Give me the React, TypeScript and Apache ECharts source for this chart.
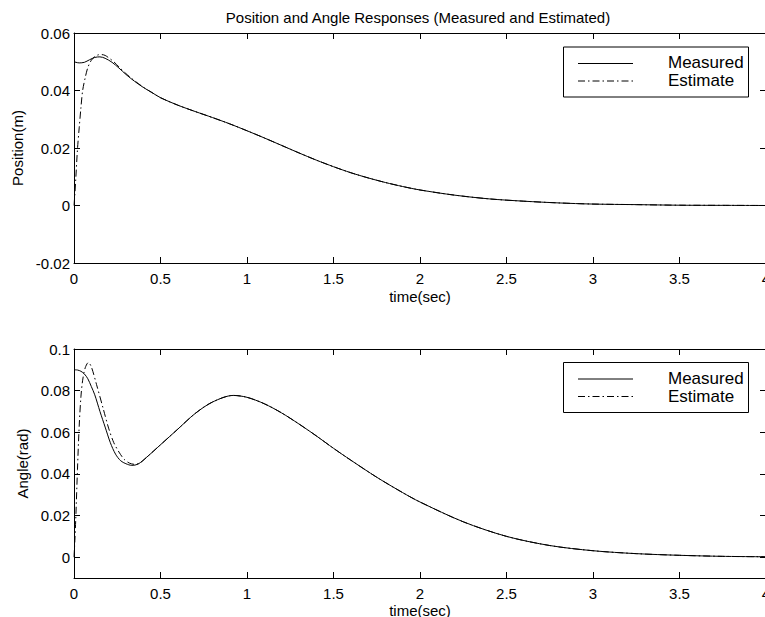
import React, { useEffect, useRef } from "react";
import * as echarts from "echarts";

const FONT = "'Liberation Sans', Arial, Helvetica, sans-serif";

const titleText = "Position and Angle Responses (Measured and Estimated)";
const xLabel = "time(sec)";
const posLabel = "Position(m)";
const angLabel = "Angle(rad)";
const legendNames = ["Measured", "Estimate"];

// Position subplot
const posTime = [0, 0.03, 0.06, 0.09, 0.12, 0.15, 0.18, 0.22, 0.26, 0.3, 0.35, 0.4, 0.45, 0.5, 0.6, 0.7, 0.8, 0.9, 1.0, 1.1, 1.2, 1.3, 1.4, 1.5, 1.6, 1.7, 1.8, 1.9, 2.0, 2.2, 2.4, 2.6, 2.8, 3.0, 3.25, 3.5, 3.75, 4.0];
const posMeasured = [0.05, 0.0496, 0.0498, 0.0507, 0.0515, 0.0517, 0.0512, 0.0498, 0.0478, 0.0456, 0.0432, 0.0411, 0.0393, 0.0375, 0.0349, 0.0327, 0.0306, 0.0284, 0.026, 0.0235, 0.0209, 0.0183, 0.0158, 0.0135, 0.0114, 0.0096, 0.008, 0.0066, 0.0054, 0.0036, 0.0023, 0.0015, 0.0009, 0.0005, 0.0003, 0.0001, 0.00005, 0];
const posEstTimeHead = [0, 0.005, 0.01, 0.02, 0.03, 0.04, 0.05, 0.065, 0.08, 0.1, 0.12, 0.14, 0.16, 0.18, 0.2, 0.23, 0.26, 0.3, 0.35, 0.4];
const posEstimateHead = [0, 0.004, 0.009, 0.0195, 0.027, 0.034, 0.04, 0.0445, 0.048, 0.0505, 0.0518, 0.0524, 0.0525, 0.0522, 0.0514, 0.05, 0.0482, 0.0459, 0.0434, 0.0412];

// Angle subplot
const angTime = [0, 0.02, 0.04, 0.06, 0.08, 0.1, 0.12, 0.15, 0.18, 0.21, 0.24, 0.27, 0.3, 0.334, 0.37, 0.42, 0.5, 0.6, 0.7, 0.8, 0.92, 1.0, 1.1, 1.2, 1.3, 1.4, 1.5, 1.6, 1.75, 1.9, 2.0, 2.25, 2.5, 2.75, 3.0, 3.25, 3.5, 3.75, 4.0];
const angMeasured = [0.09, 0.0899, 0.0893, 0.088, 0.0857, 0.082, 0.078, 0.07, 0.0625, 0.055, 0.0495, 0.0463, 0.0449, 0.0441, 0.0447, 0.048, 0.054, 0.0615, 0.069, 0.0745, 0.0777, 0.0768, 0.0737, 0.0693, 0.064, 0.0583, 0.0523, 0.0466, 0.0384, 0.031, 0.0265, 0.017, 0.01, 0.0056, 0.0031, 0.0017, 0.0009, 0.0004, 0.0002];
const angEstTimeHead = [0, 0.005, 0.01, 0.02, 0.03, 0.04, 0.05, 0.065, 0.083, 0.1, 0.13, 0.17, 0.2, 0.23, 0.26, 0.29, 0.32, 0.35, 0.38];
const angEstimateHead = [0, 0.008, 0.018, 0.042, 0.063, 0.077, 0.085, 0.091, 0.0935, 0.0915, 0.083, 0.071, 0.062, 0.055, 0.0505, 0.047, 0.0452, 0.0446, 0.0452];

const xTicksInterval = 0.5;
const posTicksInterval = 0.02;
const angTickValues = [0, 0.02, 0.04, 0.06, 0.08, 0.1];

function zip(t: number[], v: number[]) {
  return t.map((x, i) => [x, v[i]]);
}

function withTail(headT: number[], headV: number[], t: number[], v: number[]) {
  const last = headT[headT.length - 1];
  const pts = zip(headT, headV);
  t.forEach((x, i) => {
    if (x > last + 0.02) pts.push([x, v[i]]);
  });
  return pts;
}

const GL = 74;
const GW = 692;

export default function App() {
  const ref = useRef<HTMLDivElement>(null);
  useEffect(() => {
    if (!ref.current) return;
    const chart = echarts.init(ref.current, undefined, { renderer: "svg" });
    const black = "#000";
    const lbl = { color: black, fontSize: 15, fontFamily: FONT };
    const axisLine = { show: true, onZero: false, lineStyle: { color: black, width: 1 } };
    const tick = { show: true, inside: true, length: 6, lineStyle: { color: black, width: 1 } };

    const xBottom = (gi: number, gap: number) => ({
      type: "value", gridIndex: gi, position: "bottom", min: 0, max: 4, interval: xTicksInterval,
      axisLine, axisTick: tick, splitLine: { show: false },
      axisLabel: { ...lbl, margin: 8 },
      name: xLabel, nameLocation: "middle", nameGap: gap, nameTextStyle: { ...lbl },
    });
    const xTop = (gi: number) => ({
      type: "value", gridIndex: gi, position: "top", min: 0, max: 4, interval: xTicksInterval,
      axisLine, axisTick: tick, splitLine: { show: false }, axisLabel: { show: false },
    });

    const dashDot = [7, 3, 1.5, 3];

    const legendGroup = (top: number) => ({
      type: "group",
      children: [
        { type: "rect", shape: { x: 563.5, y: top, width: 185, height: 50 }, style: { fill: "#fff", stroke: black, lineWidth: 1 }, z: 100 },
        { type: "line", shape: { x1: 578, y1: top + 16.5, x2: 633, y2: top + 16.5 }, style: { stroke: black, lineWidth: 1 }, z: 101 },
        { type: "line", shape: { x1: 578, y1: top + 34, x2: 633, y2: top + 34 }, style: { stroke: black, lineWidth: 1, lineDash: dashDot }, z: 101 },
        { type: "text", x: 668, y: top + 15.5, style: { text: legendNames[0], fill: black, font: `17px ${FONT}`, textVerticalAlign: "middle", verticalAlign: "middle" }, z: 101 },
        { type: "text", x: 668, y: top + 33.5, style: { text: legendNames[1], fill: black, font: `17px ${FONT}`, textVerticalAlign: "middle", verticalAlign: "middle" }, z: 101 },
      ],
    });

    chart.setOption({
      animation: false,
      backgroundColor: "#fff",
      title: {
        text: titleText, left: 418, top: 10, textAlign: "center", padding: 0,
        textStyle: { color: black, fontSize: 15, fontWeight: "normal", fontFamily: FONT },
      },
      grid: [
        { left: GL, top: 33, width: GW, height: 230, containLabel: false, outerBoundsMode: "none" },
        { left: GL, top: 349, width: GW, height: 229, containLabel: false, outerBoundsMode: "none" },
      ],
      xAxis: [xBottom(0, 26), xTop(0), xBottom(1, 25), xTop(1)],
      yAxis: [
        {
          type: "value", gridIndex: 0, position: "left", min: -0.02, max: 0.06, interval: posTicksInterval,
          axisLine, axisTick: tick, splitLine: { show: false }, axisLabel: { ...lbl, margin: 4 },
          name: posLabel, nameLocation: "middle", nameRotate: 90, nameGap: 47, nameTextStyle: { ...lbl },
        },
        {
          type: "value", gridIndex: 0, position: "right", min: -0.02, max: 0.06, interval: posTicksInterval,
          axisLine, axisTick: tick, splitLine: { show: false }, axisLabel: { show: false },
        },
        {
          type: "value", gridIndex: 1, position: "left", min: -0.01, max: 0.1,
          axisLine, axisTick: { ...tick, customValues: angTickValues }, splitLine: { show: false },
          axisLabel: { ...lbl, margin: 4, customValues: angTickValues },
          name: angLabel, nameLocation: "middle", nameRotate: 90, nameGap: 39, nameTextStyle: { ...lbl },
        },
        {
          type: "value", gridIndex: 1, position: "right", min: -0.01, max: 0.1,
          axisLine, axisTick: { ...tick, customValues: angTickValues }, splitLine: { show: false },
          axisLabel: { show: false, customValues: angTickValues },
        },
      ],
      series: [
        {
          name: legendNames[0], type: "line", xAxisIndex: 0, yAxisIndex: 0, data: zip(posTime, posMeasured),
          showSymbol: false, symbol: "none", smooth: 0.3, lineStyle: { color: black, width: 1 },
        },
        {
          name: legendNames[1], type: "line", xAxisIndex: 0, yAxisIndex: 0,
          data: withTail(posEstTimeHead, posEstimateHead, posTime, posMeasured),
          showSymbol: false, symbol: "none", smooth: 0.3, lineStyle: { color: black, width: 1, type: dashDot },
        },
        {
          name: legendNames[0], type: "line", xAxisIndex: 2, yAxisIndex: 2, data: zip(angTime, angMeasured),
          showSymbol: false, symbol: "none", smooth: 0.3, lineStyle: { color: black, width: 1 },
        },
        {
          name: legendNames[1], type: "line", xAxisIndex: 2, yAxisIndex: 2,
          data: withTail(angEstTimeHead, angEstimateHead, angTime, angMeasured),
          showSymbol: false, symbol: "none", smooth: 0.3, lineStyle: { color: black, width: 1, type: dashDot },
        },
      ],
      graphic: [legendGroup(47), legendGroup(362.5)],
    });
    return () => chart.dispose();
  }, []);
  return (
    <div
      ref={ref}
      style={{ position: "fixed", left: 0, top: 0, width: 765, height: 617, background: "#fff" }}
    />
  );
}
